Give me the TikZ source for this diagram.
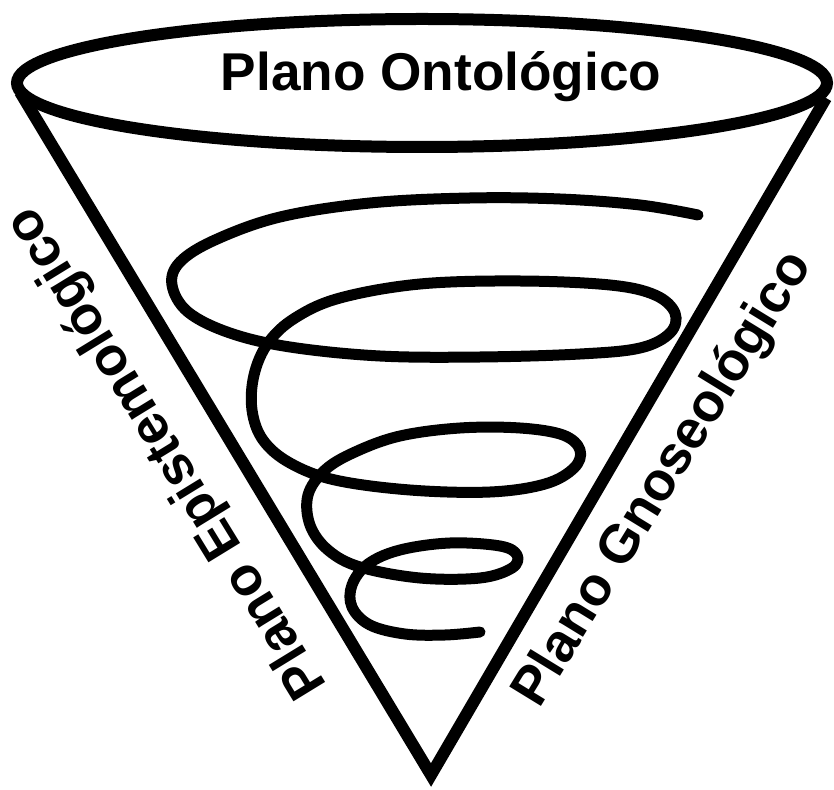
\documentclass[tikz,border=0pt]{standalone}
\usepackage{fontspec}
\setmainfont{Liberation Sans}
\usetikzlibrary{calc}
\definecolor{Ink}{HTML}{000000}
\tikzset{
  rim/.style={draw=Ink, line width=6pt},
  edge/.style={draw=Ink, line width=6pt, line join=miter},
  coil/.style={draw=Ink, line width=5.5pt, line cap=round, line join=round},
  plane/.style={font=\fontsize{26.6}{30}\selectfont\bfseries, text=Ink, inner sep=0pt},
  planeSide/.style={plane, font=\fontsize{27}{30}\selectfont\bfseries}
}

\begin{document}
\begin{tikzpicture}[x=0.5pt, y=-0.5pt]
  \useasboundingbox (0,0) rectangle (834,790);
  \coordinate (rimL) at (20,92);
  \coordinate (rimR) at (826,98);
  \coordinate (apex) at (431,775);
  \draw[edge] (rimL) -- (apex) -- (rimR);
  \draw[rim] (422,83) ellipse [x radius=405, y radius=64];
  \node[plane, anchor=base] (onto) at (441,91) {Plano Ontológico};
  \node[planeSide, rotate=121.5] (episte) at (168,452) {Plano Epistemológico};
  \node[planeSide, rotate=58.5] (gnose) at (664,480) {Plano Gnoseológico};
  % espiral
  \draw[coil] plot[smooth, tension=0.6] coordinates {
    (698,215) (640,205) (560,199) (470,198) (370,203) (280,217) (215,240)
    (180,262) (172,285) (188,312) (230,333) (290,347) (380,356) (480,357)
    (580,354) (640,348) (670,333) (675,313) (655,295) (610,285) (520,281)
    (420,284) (340,298) (295,318) (268,343) (254,375) (252,410) (263,440)
    (290,463) (335,480) (410,490) (490,492) (545,484) (574,468) (580,450)
    (563,435) (520,428) (460,428) (400,436) (355,452) (325,470) (308,495)
    (310,525) (328,550) (360,567) (420,578) (480,578) (512,568) (517,555)
    (500,546) (450,543) (400,550) (368,564) (352,585) (352,607) (370,625)
    (405,634) (445,635) (480,632)};
\end{tikzpicture}
\end{document}
